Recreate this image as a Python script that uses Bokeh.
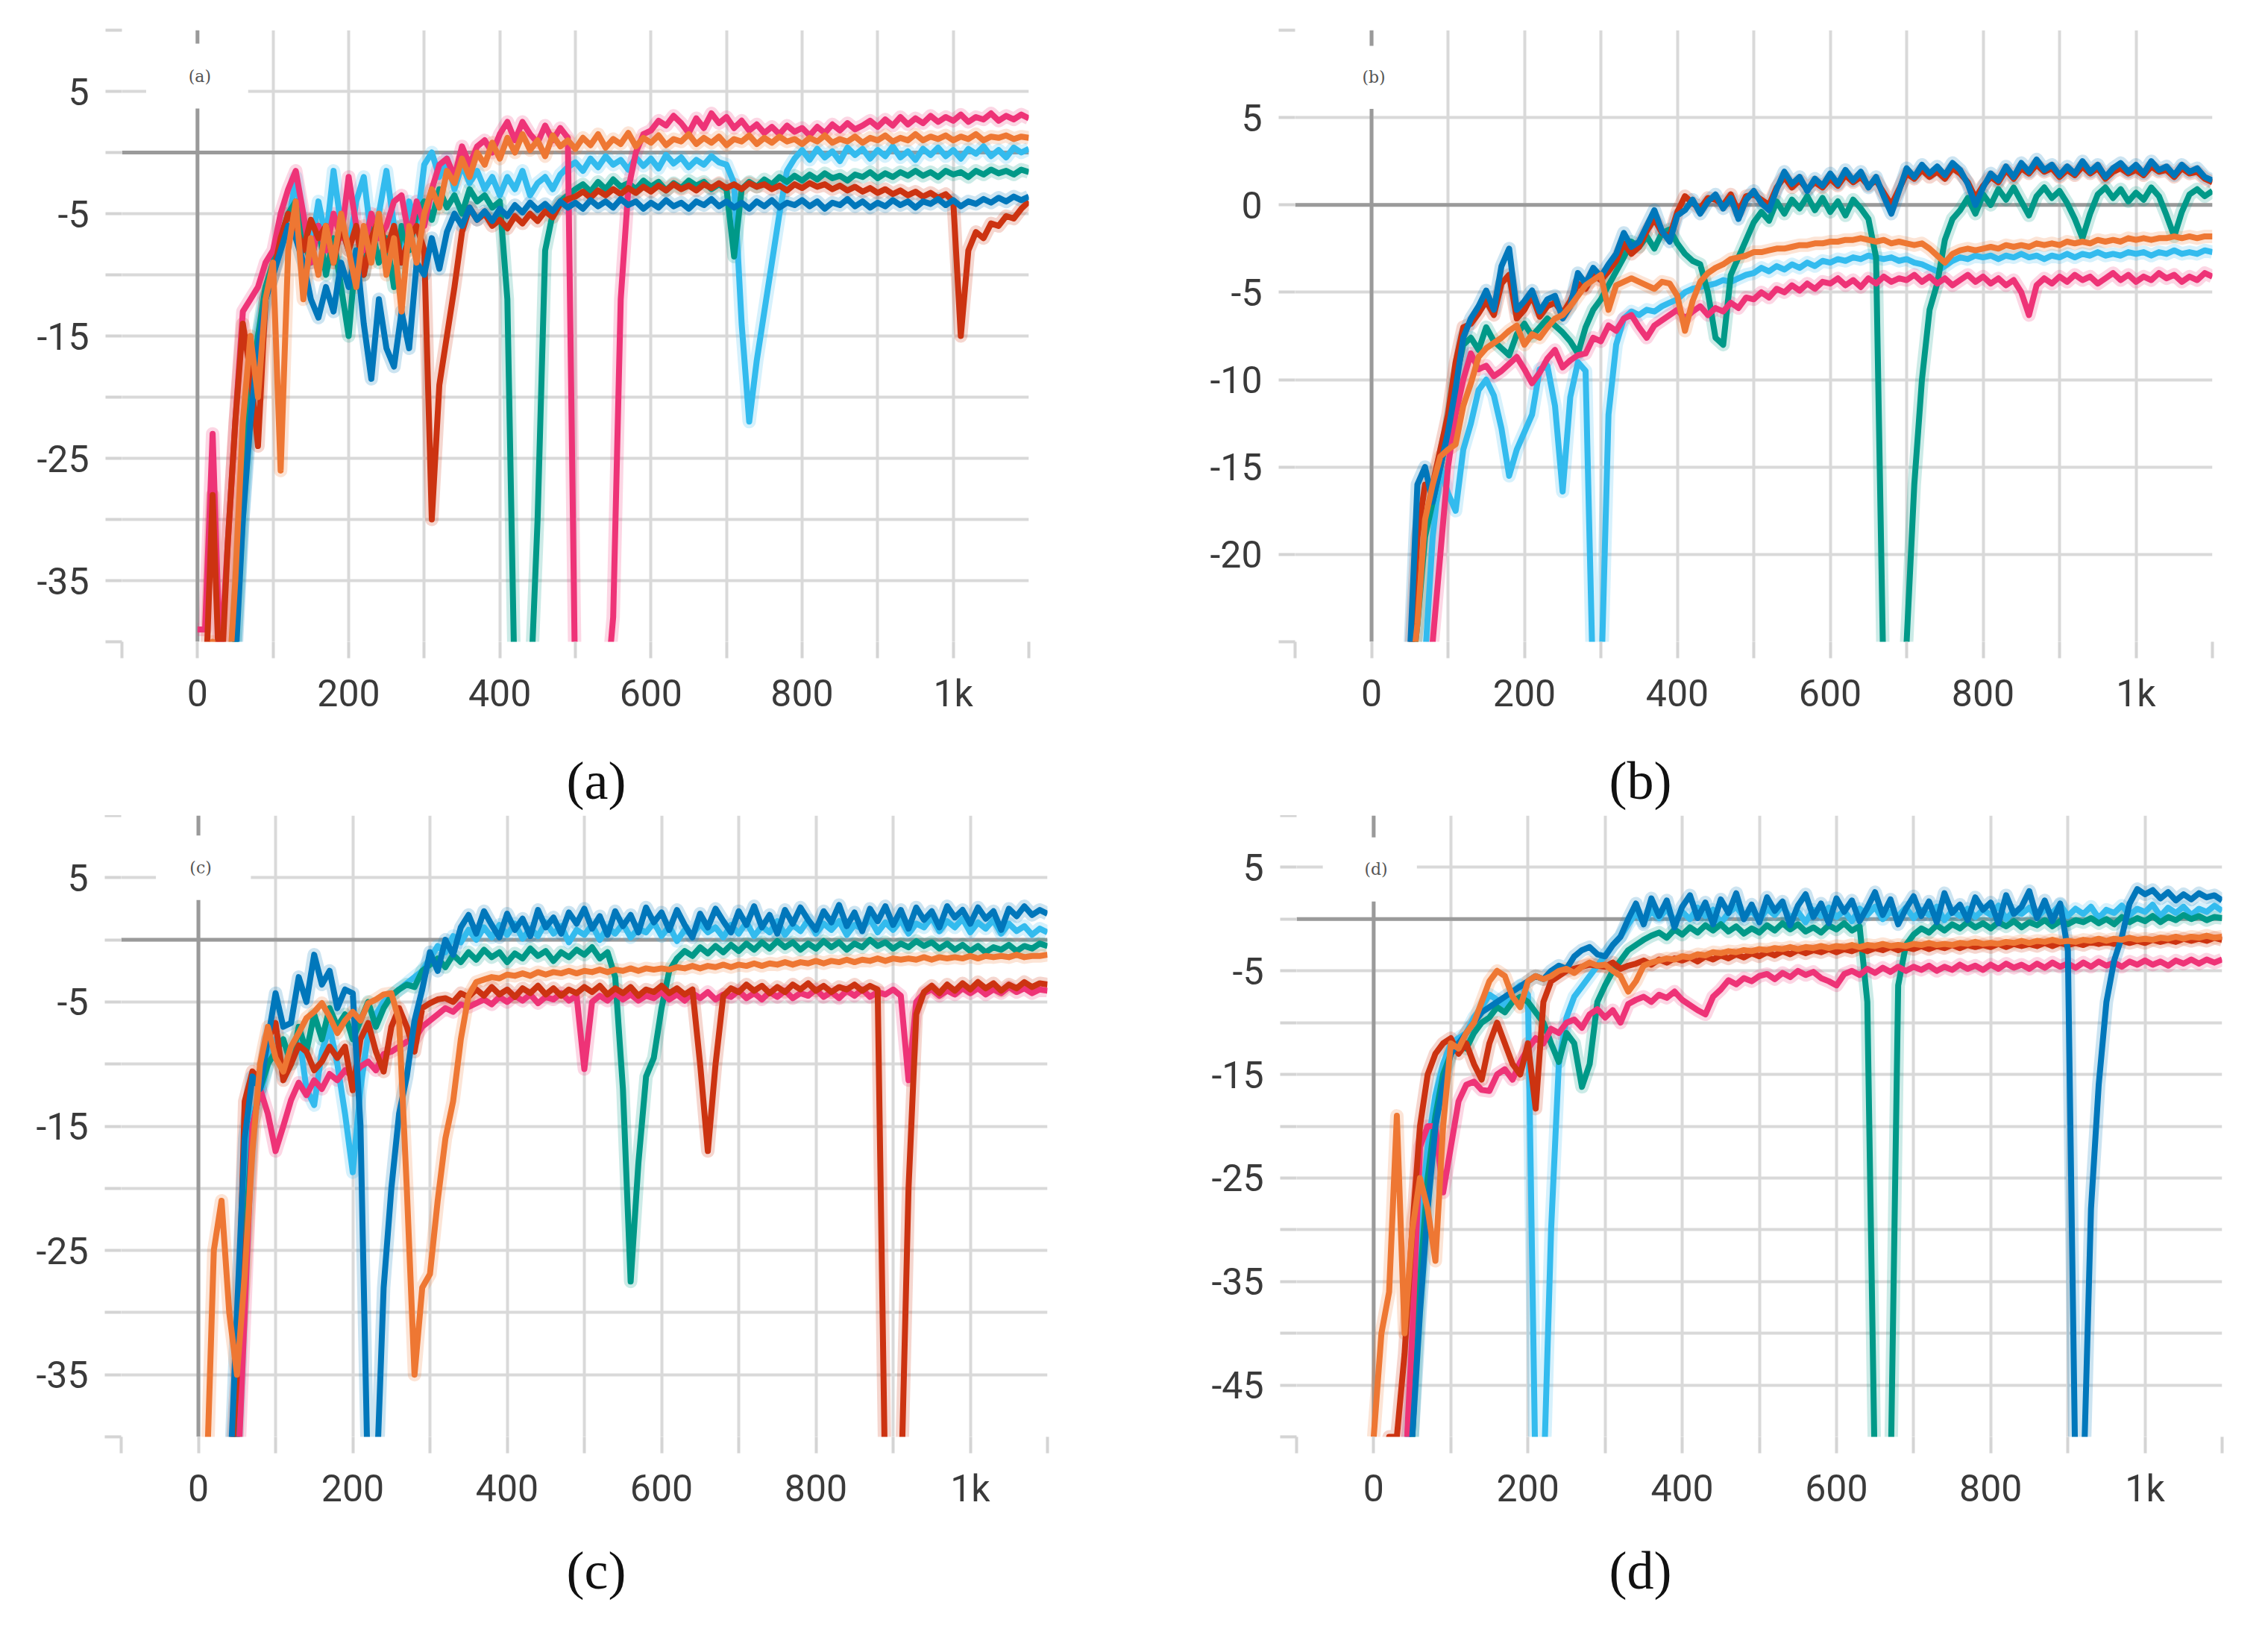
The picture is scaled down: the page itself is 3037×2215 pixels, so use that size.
from bokeh.embed import file_html
from bokeh.resources import INLINE
from bokeh.plotting import figure
from bokeh.layouts import column, row
from bokeh.models import Range1d, FixedTicker, Span, BoxAnnotation, Label

# one logged value every 10 training steps
STEPS = list(range(0, 1101, 10))

X_TICKS = list(range(-100, 1101, 100))
X_TICK_LABELS = ["", "0", "", "200", "", "400", "", "600", "", "800", "", "1k", ""]

COLORS = {"cyan": "#33BBEE", "teal": "#009988", "magenta": "#EE3377",
          "red": "#CC3311", "blue": "#0077BB", "orange": "#EE7733"}
ORDER = ["cyan", "teal", "magenta", "red", "blue", "orange"]

# ---------------- panel (a) ----------------
A_Y_TICKS = list(range(-40, 11, 5))
A_Y_LABELS = ["", "-35", "", "-25", "", "-15", "", "-5", "", "5", ""]

A_MAGENTA = [-39, -39, -23, -42, -32, -22, -13, -12, -11, -9,
             -8, -5, -3, -1.5, -5, -9, -6, -8, -5, -7,
             -2, -6, -8, -5, -7, -6, -4, -3.5, -7, -4,
             -6, -3, -1, -0.5, -2, 0.5, -1, 0.5, 1, 0,
             1.5, 2.5, 1, 2.5, 1.5, 0.8, 2.2, 1, 2, 1.2,
             -45, -45, -45, -45, -45, -38, -12, -3, 0, 1.5,
             1.8, 2.6, 2.2, 3.0, 2.4, 1.6, 2.8, 2.0, 3.2, 2.4,
             2.9, 2.0, 2.6, 1.8, 2.3, 1.6, 2.1, 1.5, 2.2, 1.7,
             2.0, 1.4, 2.1, 1.6, 2.3, 1.8, 2.4, 1.9, 2.2, 2.6,
             2.1, 2.7, 2.2, 2.9, 2.3, 2.8, 2.4, 3.0, 2.5, 2.9,
             2.6, 3.1, 2.5, 2.9, 2.7, 3.2, 2.6, 3.0, 2.7, 3.1, 2.8]
A_ORANGE = [-45, -45, -40, -42, -45, -35, -22, -15, -20, -12,
            -9, -26, -8, -4, -12, -7, -10, -6, -9, -5,
            -8, -11, -6, -9, -5, -10, -7, -13, -6, -9,
            -5, -3, -4.5, -1.5, -2.5, -0.5, -2, 0, -1, 0.8,
            -0.5, 1.2, 0, 1.5, 0.2, 1.0, -0.3, 1.4, 0.5, 1.0,
            0.3, 1.2, 0.6, 1.5, 0.4, 1.1, 0.7, 1.6, 0.5, 1.2,
            0.8, 1.4, 0.6, 1.1, 0.9, 1.5, 0.7, 1.2, 0.8, 1.3,
            0.6, 1.1, 0.9, 1.4, 0.7, 1.2, 0.8, 1.3, 0.9, 1.1,
            0.7, 1.2, 0.9, 1.4, 0.8, 1.1, 0.9, 1.3, 0.8, 1.2,
            1.0, 1.4, 0.9, 1.2, 1.0, 1.5, 1.0, 1.3, 1.1, 1.4,
            1.0, 1.3, 1.1, 1.5, 1.0, 1.3, 1.2, 1.4, 1.1, 1.3, 1.2]
A_CYAN = [-45, -45, -45, -45, -45, -40, -30, -20, -15, -12,
          -10, -8, -6, -2, -6, -8, -4, -7, -1.5, -6,
          -8, -4, -2, -7, -5, -1.5, -6, -9, -4, -6,
          -1, 0, -2, -0.5, -3, -1, -2.5, -1.5, -3, -2,
          -3.5, -2, -3, -1.5, -3.5, -2.5, -2, -3, -1.8, -1.2,
          -0.8, -1.5, -0.5, -1.2, -0.3, -1.0, -0.6, -1.4, -0.4, -1.1,
          -0.5, -1.3, -0.2, -0.9, -0.4, -1.2, -0.6, -1.0, -0.3, -0.8,
          -1.0, -2.5, -14, -22, -17, -13, -9, -5, -1.5, -0.5,
          0.2, -0.6, 0.3, -0.4, 0.1, -0.7, 0.4, -0.2, 0.3, -0.5,
          0.2, -0.3, 0.5, -0.4, 0.1, -0.6, 0.3, -0.2, 0.4, -0.3,
          0.2, -0.5, 0.3, -0.1, 0.5, -0.3, 0.2, -0.4, 0.4, 0.0, 0.3]
A_TEAL = [-45, -45, -45, -45, -45, -40, -28, -20, -15, -11,
          -9, -7, -5, -4, -7, -9, -6, -10, -7, -11,
          -15, -8, -10, -6, -9, -7, -11, -6, -8, -5,
          -4, -5.5, -3, -4.5, -3.5, -5, -3, -4, -3.5, -4.5,
          -4, -12, -45, -45, -45, -30, -8, -5, -4, -3.5,
          -3, -2.6, -3.2, -2.4, -3, -2.2, -2.8, -2.5, -3, -2.3,
          -2.8, -2.4, -3.1, -2.5, -2.9, -2.3, -2.7, -2.4, -3, -2.6,
          -3, -8.5, -3, -2.4, -2.8, -2.2, -2.6, -2.0, -2.4, -1.9,
          -2.3, -1.8, -2.2, -1.7, -2.1, -1.9, -2.3, -1.8, -2.0, -1.6,
          -2.1, -1.7, -2.0, -1.6, -1.9, -1.5, -1.9, -1.6, -2.0, -1.5,
          -1.8, -1.6, -2.0, -1.5, -1.8, -1.4, -1.7, -1.5, -1.8, -1.4, -1.6]
A_RED = [-45, -45, -28, -45, -32, -22, -14, -18, -24, -12,
         -10, -7, -5, -6, -8, -5.5, -7, -6, -9, -6,
         -8, -6, -10, -7, -5.5, -8, -6, -9, -7, -6,
         -8, -30, -19, -15, -11, -6.5, -4.5, -5.5, -5, -6,
         -5.5, -6.2, -5.2, -5.8, -5, -5.6, -4.8, -5.3, -4.2, -3.8,
         -3.6, -3.2, -3.7, -3.1, -3.5, -3.0, -3.4, -2.9, -3.3, -2.8,
         -3.2, -2.7, -3.1, -2.6, -3.0, -2.7, -3.1, -2.6, -2.9, -2.5,
         -2.9, -2.6, -3.0, -2.5, -2.8, -2.6, -3.0, -2.7, -3.1, -2.6,
         -2.9, -2.5, -2.8, -2.6, -3.0, -2.7, -3.1, -2.8, -3.2, -2.9,
         -3.3, -3.0, -3.4, -3.1, -3.5, -3.2, -3.6, -3.3, -3.7, -3.4,
         -4.0, -15, -8, -6.5, -7, -5.8, -6, -5.2, -5.4, -4.6, -4.0]
A_BLUE = [-45, -45, -45, -45, -45, -42, -30, -22, -16, -12,
          -10, -8, -6, -7, -9, -12, -13.5, -11, -13, -9,
          -11, -8, -14, -18.5, -12, -16, -17.5, -13, -16, -9,
          -10, -7, -9.5, -6.5, -5, -6, -4.5, -5.5, -4.8, -5.6,
          -4.6, -5.2, -4.3, -4.9, -4.1, -4.7, -4.2, -4.8, -4.0, -4.5,
          -4.1, -4.6, -3.9, -4.4, -4.0, -4.5, -3.8, -4.3, -4.0, -4.6,
          -4.1, -4.5, -3.9, -4.4, -4.1, -4.6, -4.0, -4.3, -3.8, -4.4,
          -4.0, -4.5, -4.1, -4.6, -4.0, -4.4, -3.9, -4.5, -4.1, -4.3,
          -3.9, -4.4, -4.0, -4.6, -4.1, -4.3, -3.8, -4.4, -4.0, -4.5,
          -4.1, -4.4, -3.9, -4.3, -4.0, -4.5, -4.0, -4.2, -3.8, -4.3,
          -3.9, -4.4, -4.0, -4.2, -3.8, -4.1, -3.7, -4.0, -3.6, -3.9, -3.6]

# ---------------- panel (b) ----------------
B_Y_TICKS = list(range(-25, 11, 5))
B_Y_LABELS = ["", "-20", "-15", "-10", "-5", "0", "5", ""]

B_BLUE = [-28, -28, -28, -28, -28, -26, -16, -15, -17, -15,
          -13, -10.5, -7.6, -6.5, -5.8, -4.9, -6, -3.5, -2.5, -6,
          -5.5, -4.9, -6.1, -5.4, -5.2, -6.5, -5.8, -3.9, -4.5, -3.6,
          -4.1, -3.4, -2.8, -1.6, -2.4, -2.1, -1.2, -0.3, -1.5, -2.1,
          -0.6, -0.3, 0.3, -0.5, 0.2, 0.6, -0.2, 0.4, -0.8, 0.3,
          0.8, 0.1, -0.3, 0.9, 1.9, 1.2, 1.6, 0.8, 1.5, 1.1,
          1.8, 1.2, 2.0, 1.4, 1.9, 1.0, 1.6, 0.5, -0.5, 0.8,
          2.1, 1.6, 2.3, 1.8, 2.2, 1.7, 2.4, 2.0, 1.2, 0.0,
          1.0, 1.8, 1.4, 2.2, 1.6, 2.4, 1.9, 2.6, 2.0, 2.3,
          1.7, 2.2, 1.8, 2.5, 1.9, 2.3, 1.6, 2.1, 2.4, 1.9,
          2.3, 1.8, 2.5, 2.0, 2.2, 1.7, 2.3, 1.9, 2.1, 1.6, 1.4]
B_RED = [-28, -28, -28, -28, -28, -27, -19, -16, -16, -14,
         -12, -9, -7, -6.8, -6.2, -5.5, -6.3, -4.5, -4, -6.5,
         -6, -5.2, -6.4, -5.8, -5.6, -6.2, -5.5, -4.5, -4.8, -4,
         -4.3, -3.8, -3.2, -2.2, -2.8, -2.4, -1.5, -0.8, -1.6, -1.8,
         -0.4, 0.5, 0.1, -0.2, 0.4, 0.3, 0.0, 0.6, -0.4, 0.5,
         0.6, 0.3, 0.0, 1.0, 1.6, 1.0, 1.4, 0.9, 1.3, 1.0,
         1.5, 1.1, 1.7, 1.3, 1.6, 1.1, 1.4, 0.7, 0.0, 0.9,
         1.8, 1.5, 2.0, 1.6, 1.9, 1.5, 2.1, 1.8, 1.3, 0.4,
         1.1, 1.6, 1.3, 2.0, 1.5, 2.1, 1.8, 2.3, 1.9, 2.1,
         1.6, 2.0, 1.7, 2.2, 1.8, 2.1, 1.5, 1.9, 2.1, 1.8,
         2.0, 1.7, 2.2, 1.9, 2.0, 1.6, 2.1, 1.8, 1.9, 1.5, 1.3]
B_TEAL = [-28, -28, -28, -28, -28, -28, -24, -19, -17, -15,
          -13, -10, -8, -7.6, -8.3, -7, -7.8, -8.2, -8.6, -7.4,
          -6.8, -7.5, -7, -6.5, -6.9, -7.3, -7.8, -8.5, -7, -6,
          -5.4, -4.6, -3.8, -3, -2.1, -2.4, -1.8, -2.5, -1.6, -1.4,
          -2.2, -2.8, -3.2, -3.4, -5, -7.6, -8, -4, -3, -2,
          -1.0, -0.4, -0.9, 0.2, -0.5, 0.3, -0.2, 0.5, -0.3, 0.4,
          -0.4, 0.2, -0.6, 0.3, -0.2, -0.8, -3, -28, -28, -28,
          -25, -16, -10, -6, -4.5, -2, -0.8, -0.3, 0.4, -0.5,
          0.6, 0.0, 0.9, 0.3, 1.0, 0.2, -0.6, 0.5, 1.0, 0.4,
          0.8, 0.1, -0.8, -1.9, -0.5, 0.6, 1.0, 0.4, 0.9, 0.2,
          0.7, 0.3, 1.0, 0.5, -0.6, -1.8, -0.4, 0.6, 0.9, 0.5, 0.8]
B_ORANGE = [-28, -28, -28, -28, -28, -28, -24, -18, -16, -14.4,
            -14, -13.7, -11.5, -10.2, -8.7, -8.2, -7.9, -7.6, -7.2, -6.9,
            -8, -7.4, -7.6, -7, -6.5, -6.3, -5.8, -5.2, -4.6, -4.3,
            -4.0, -6.0, -4.6, -4.4, -4.2, -4.4, -4.6, -4.8, -4.4, -4.5,
            -5.2, -7.2, -5.5, -4.4, -3.9, -3.6, -3.4, -3.1, -3.0, -2.9,
            -2.7, -2.7, -2.6, -2.5, -2.5, -2.4, -2.3, -2.3, -2.2, -2.2,
            -2.1, -2.1, -2.0, -2.0, -1.9, -2.0, -2.1, -2.0, -2.2, -2.1,
            -2.2, -2.3, -2.2, -2.5, -2.9, -3.3, -2.8, -2.6, -2.5, -2.6,
            -2.5, -2.4, -2.5, -2.3, -2.4, -2.3, -2.4, -2.2, -2.3, -2.2,
            -2.3, -2.1, -2.2, -2.1, -2.2, -2.0, -2.1, -2.0, -2.1, -1.9,
            -2.0, -1.9, -2.0, -1.9, -1.9, -1.8, -1.9, -1.8, -1.9, -1.8, -1.8]
B_CYAN = [-28, -28, -28, -28, -28, -28, -28, -26, -19, -15,
          -16.5, -17.5, -14, -12.5, -10.6, -10, -10.9, -12.8, -15.5, -14,
          -13, -12, -9.4, -9.2, -11.5, -16.4, -11, -9, -9.5, -28,
          -28, -12, -8, -6.5, -6.1, -6.3, -6.0, -6.1, -5.8, -5.6,
          -5.4, -5.0, -4.8, -4.7, -4.6, -4.5, -4.3, -4.4, -4.2, -4.0,
          -3.9, -3.6, -3.8, -3.5, -3.7, -3.4, -3.6, -3.3, -3.5, -3.2,
          -3.3, -3.1, -3.2, -3.0, -3.1, -2.9, -3.0, -3.1, -3.0, -3.2,
          -3.1, -3.3, -3.4, -3.6, -3.8, -3.5, -3.2, -3.0, -3.1, -2.9,
          -3.0, -2.9, -3.1, -2.9, -3.0, -2.8, -3.0, -2.9, -3.1, -2.9,
          -3.0, -2.8, -3.0, -2.8, -2.9, -2.7, -2.9, -2.8, -2.9, -2.7,
          -2.8, -2.7, -2.9, -2.7, -2.8, -2.6, -2.8, -2.7, -2.8, -2.6, -2.7]
B_MAGENTA = [-28, -28, -28, -28, -28, -28, -28, -28, -25, -20,
             -15, -12, -10, -8.5, -9.4, -9.2, -9.8, -9.5, -9.1, -8.7,
             -9.4, -10.2, -9.6, -8.8, -8.3, -9.3, -8.9, -8.6, -8.5, -7.6,
             -7.8, -6.9, -7.2, -6.5, -6.3, -7.0, -7.6, -6.9, -6.6, -6.3,
             -6.0, -6.5, -6.1, -5.8, -6.3, -5.9, -6.1, -5.6, -5.9, -5.3,
             -5.4, -5.0, -5.3, -4.8, -5.0, -4.6, -4.9, -4.5, -4.8, -4.4,
             -4.5, -4.2, -4.6, -4.3, -4.7, -4.2, -4.5, -4.1, -4.4, -4.2,
             -4.3, -4.0, -4.4, -4.1, -4.5, -4.2, -4.6, -4.3, -4.0, -4.4,
             -4.1, -4.5, -4.2, -4.6, -4.3, -5.0, -6.3, -4.6, -4.2, -4.5,
             -4.1, -4.4, -4.0, -4.3, -4.1, -4.5, -4.2, -3.9, -4.3, -4.0,
             -4.4, -4.1, -4.3, -3.9, -4.2, -4.0, -4.4, -4.1, -4.3, -3.9, -4.1]

# ---------------- panel (c) ----------------
C_Y_TICKS = list(range(-40, 11, 5))
C_Y_LABELS = ["", "-35", "", "-25", "", "-15", "", "-5", "", "5", ""]

C_BLUE = [-45, -45, -45, -45, -45, -30, -16, -11, -12, -8,
          -4.3, -7, -6.7, -3, -5, -1.2, -3.6, -2.5, -5.5, -4,
          -4.3, -15, -45, -45, -28, -20, -14, -11, -6.5, -4,
          -1.0, -2.5, 0.0, -1.2, 1.0, 2.0, 0.5, 2.3, 1.2, 0.2,
          2.1, 0.8, 1.7, 0.3, 2.4, 1.0, 1.8, 0.5, 2.2, 1.3,
          2.5, 0.9, 1.9, 0.4, 2.3, 1.1, 2.0, 0.6, 2.6, 1.4,
          2.2, 0.8, 2.4, 1.2, 0.2, 2.1, 1.0, 2.5, 1.5, 0.6,
          2.3, 1.2, 2.7, 1.0, 2.0, 0.5, 2.4, 1.3, 2.6, 1.6,
          0.8, 2.3, 1.4, 2.8, 1.1, 2.2, 0.7, 2.5, 1.5, 2.7,
          1.2, 2.4, 0.9, 2.6, 1.6, 2.3, 1.0, 2.7, 1.8, 2.4,
          1.3, 2.6, 1.7, 2.3, 0.8, 2.5, 1.9, 2.7, 2.0, 2.4, 2.1]
C_CYAN = [-45, -45, -45, -45, -45, -38, -22, -14, -12.5, -10,
          -8, -11, -9, -7.5, -12, -13.3, -9, -7, -10, -14,
          -18.7, -12, -7.5, -6, -5, -4.5, -4, -3.5, -3, -2.5,
          -1.5, -0.5, -1.0, 0.3, -0.2, 0.8, 0.0, 1.0, 0.2, 1.2,
          0.4, 1.3, 0.1, 0.9, 0.3, 1.4, 0.5, 1.1, -0.2, 0.8,
          0.4, 1.2, 0.0, 1.0, 0.5, 1.3, 0.2, 0.9, 0.6, 1.4,
          0.3, 1.1, -0.1, 0.8, 0.4, 1.3, 0.6, 1.0, 0.2, 1.2,
          0.5, 1.4, 0.3, 1.1, 0.6, 1.5, 0.4, 1.2, 0.7, 1.6,
          0.5, 1.3, 0.8, 1.5, 0.4, 1.2, 0.9, 1.7, 0.6, 1.4,
          0.8, 1.6, 0.5, 1.3, 1.0, 1.8, 0.7, 1.5, 1.0, 1.7,
          0.6, 1.4, 0.9, 1.6, 0.5, 1.3, 0.7, 1.1, 0.4, 0.9, 0.6]
C_TEAL = [-45, -45, -45, -45, -45, -40, -25, -15, -12, -10,
          -9, -8, -10, -7, -9, -6, -8, -5.5, -7, -6,
          -8, -6.5, -5, -7, -5.5, -4.5, -4, -3.6, -3.8, -2.5,
          -2.0, -1.5, -2.2, -1.2, -1.8, -1.0, -1.6, -0.8, -1.4, -1.0,
          -1.8, -1.1, -1.5, -0.7, -1.3, -0.9, -1.7, -1.0, -1.4, -0.8,
          -1.2, -0.6, -1.5, -1.0, -3.0, -12, -27.5, -18, -11, -9.5,
          -5.5, -2.5, -1.5, -0.9, -1.3, -0.6, -1.1, -0.5, -1.0, -0.4,
          -0.9, -0.3, -0.8, -0.2, -0.7, -0.1, -0.6, -0.2, -0.8, -0.3,
          -0.7, -0.1, -0.6, -0.2, -0.8, -0.3, -0.6, 0.0, -0.5, -0.2,
          -0.7, -0.3, -0.6, -0.1, -0.5, -0.2, -0.7, -0.3, -0.8, -0.4,
          -0.9, -0.5, -1.0, -0.6, -0.8, -0.4, -0.9, -0.5, -0.7, -0.3, -0.5]
C_ORANGE = [-45, -45, -25, -21, -30, -35, -27, -17, -10, -7,
            -9.5, -10.6, -8.6, -7.5, -6.3, -5.8, -5.1, -6.2, -7.5, -6.5,
            -5.8, -6.5, -5.1, -4.8, -4.4, -4.3, -6.5, -20, -35, -28,
            -26.9, -21, -16, -13, -8, -4.5, -3.4, -3.2, -3.0, -3.1,
            -2.8, -2.9, -2.7, -2.9, -2.6, -2.8, -2.6, -2.7, -2.5, -2.7,
            -2.5, -2.6, -2.4, -2.6, -2.4, -2.5, -2.3, -2.5, -2.3, -2.4,
            -2.3, -2.4, -2.2, -2.3, -2.1, -2.3, -2.1, -2.2, -2.0, -2.2,
            -2.0, -2.1, -1.9, -2.1, -1.9, -2.0, -1.8, -2.0, -1.8, -1.9,
            -1.7, -1.9, -1.7, -1.8, -1.6, -1.8, -1.6, -1.7, -1.5, -1.7,
            -1.5, -1.6, -1.5, -1.6, -1.4, -1.6, -1.4, -1.5, -1.4, -1.5,
            -1.3, -1.5, -1.3, -1.4, -1.3, -1.4, -1.2, -1.4, -1.3, -1.3, -1.2]
C_RED = [-45, -45, -45, -45, -45, -35, -13, -10.6, -11.3, -8,
         -6.7, -11.3, -10, -8.5, -9, -10.5, -9.8, -8.6, -9.5, -8.6,
         -12.1, -8, -6.7, -9, -10.6, -7, -5.5, -7, -9, -5.5,
         -5.1, -4.8, -4.7, -5.0, -4.3, -4.6, -4.0, -4.5, -3.8, -4.4,
         -4.0, -4.6, -3.9, -4.3, -3.7, -4.4, -3.9, -4.5, -4.0, -4.3,
         -3.8, -4.2, -3.7, -4.4, -3.9, -4.3, -3.8, -4.5, -4.0, -4.2,
         -3.7, -4.3, -3.9, -4.4, -4.0, -10, -17, -10, -4.5, -3.9,
         -4.2, -3.6, -4.1, -3.7, -4.3, -3.8, -4.2, -3.6, -4.0, -3.5,
         -4.1, -3.7, -4.2, -3.8, -4.0, -3.6, -4.1, -3.7, -4.0, -45,
         -45, -45, -20, -6, -4.2, -3.7, -4.3, -3.6, -4.1, -3.5,
         -4.0, -3.4, -3.9, -3.5, -4.1, -3.6, -3.9, -3.4, -3.8, -3.5, -3.6]
C_MAGENTA = [-45, -45, -45, -45, -45, -45, -30, -15, -12, -14,
             -17, -15, -12.9, -11.5, -12.5, -11.3, -12, -10.8, -11.3, -10.5,
             -11, -10.2, -9.8, -10.5, -9.2, -9, -8.6, -8.2, -8, -7,
             -6.5, -6, -5.5, -5.8, -5.2, -5.4, -5.1, -4.8, -5.2, -4.6,
             -5.0, -4.5, -4.9, -4.4, -5.1, -4.6, -4.8, -4.3, -4.9, -4.5,
             -10.4, -5.0, -4.5, -4.9, -4.3, -4.8, -4.4, -4.9, -4.5, -4.7,
             -4.2, -4.8, -4.4, -4.9, -4.3, -4.7, -4.2, -4.8, -4.4, -4.6,
             -4.1, -4.7, -4.3, -4.8, -4.2, -4.6, -4.1, -4.7, -4.3, -4.5,
             -4.0, -4.6, -4.2, -4.7, -4.1, -4.5, -4.0, -4.6, -4.2, -4.4,
             -4.0, -4.5, -11.3, -5, -4.3, -4.0, -4.5, -4.1, -4.4, -3.9,
             -4.3, -3.9, -4.4, -4.0, -4.3, -3.8, -4.2, -3.9, -4.3, -4.0, -4.1]

# ---------------- panel (d) ----------------
D_Y_TICKS = list(range(-50, 11, 5))
D_Y_LABELS = ["", "-45", "", "-35", "", "-25", "", "-15", "", "-5", "", "5", ""]

D_ORANGE = [-50, -40, -36, -19, -40, -30, -25, -28, -33, -20,
            -12, -12.5, -11, -10, -8, -6, -5, -5.5, -7.5, -8.5,
            -6, -5.5, -5.8, -5.5, -5, -4.8, -5.2, -4.6, -4.2, -4.5,
            -4.4, -5, -5.5, -7, -6, -4.5, -4.2, -4.0, -3.8, -3.9,
            -3.6, -3.7, -3.4, -3.5, -3.2, -3.3, -3.1, -3.2, -3.0, -3.1,
            -2.9, -3.0, -2.8, -2.9, -2.7, -2.9, -2.7, -2.8, -2.6, -2.8,
            -2.6, -2.7, -2.5, -2.7, -2.5, -2.6, -2.4, -2.6, -2.5, -2.6,
            -2.4, -2.5, -2.3, -2.5, -2.4, -2.5, -2.3, -2.4, -2.2, -2.4,
            -2.3, -2.4, -2.2, -2.3, -2.1, -2.3, -2.1, -2.2, -2.0, -2.2,
            -2.1, -2.2, -2.0, -2.1, -1.9, -2.1, -1.9, -2.0, -1.8, -2.0,
            -1.9, -2.0, -1.8, -1.9, -1.7, -1.9, -1.7, -1.8, -1.6, -1.8, -1.7]
D_RED = [-55, -55, -50, -50, -42, -30, -20, -15, -13, -12,
         -11.5, -13, -12, -14, -15.5, -12, -10, -12, -14, -15,
         -12, -18.3, -8, -6, -5.5, -5, -4.8, -4.6, -4.4, -4.5,
         -4.6, -4.2, -4.8, -4.5, -4.3, -4.0, -4.4, -3.9, -4.2, -3.8,
         -4.0, -3.7, -4.1, -3.6, -3.9, -3.5, -3.8, -3.4, -3.7, -3.3,
         -3.6, -3.2, -3.5, -3.1, -3.4, -3.0, -3.3, -3.0, -3.2, -2.9,
         -3.2, -2.9, -3.1, -2.8, -3.1, -2.8, -3.0, -2.7, -3.0, -2.7,
         -2.9, -2.6, -2.9, -2.6, -2.8, -2.5, -2.8, -2.5, -2.7, -2.5,
         -2.7, -2.4, -2.7, -2.4, -2.6, -2.4, -2.6, -2.3, -2.6, -2.3,
         -2.5, -2.3, -2.5, -2.2, -2.4, -2.2, -2.4, -2.1, -2.3, -2.1,
         -2.3, -2.0, -2.2, -2.0, -2.2, -1.9, -2.1, -1.9, -2.1, -1.8, -2.0]
D_MAGENTA = [-55, -55, -55, -55, -55, -40, -22, -20, -20, -26.4,
             -22, -17.6, -16, -15.7, -16.5, -16.6, -15, -14.5, -15.5, -13.8,
             -12.5, -11.5, -12, -10.6, -11, -10, -9.7, -10.5, -9.2, -8.7,
             -9.5, -8.8, -10, -8.2, -7.8, -7.5, -8.0, -7.3, -7.6, -7.0,
             -7.8, -8.3, -8.8, -9.2, -7.5, -6.8, -5.9, -6.3, -5.7, -6.0,
             -5.5, -5.3, -5.8, -5.2, -5.6, -5.0, -5.4, -5.1, -5.7, -6.0,
             -6.4, -5.3, -5.0, -5.4, -4.8, -5.2, -4.7, -5.1, -4.6, -5.0,
             -4.6, -4.9, -4.5, -5.0, -4.6, -4.9, -4.4, -4.8, -4.5, -4.9,
             -4.4, -4.8, -4.3, -4.7, -4.4, -4.8, -4.3, -4.7, -4.2, -4.6,
             -4.3, -4.7, -4.2, -4.6, -4.1, -4.5, -4.2, -4.6, -4.1, -4.4,
             -4.0, -4.4, -4.1, -4.5, -4.0, -4.3, -3.9, -4.3, -3.9, -4.2, -3.9]
D_CYAN = [-55, -55, -55, -55, -55, -45, -30, -22, -17, -14,
          -12, -11.5, -11, -9.5, -8.5, -7.3, -7.8, -8.3, -7, -6.4,
          -7.3, -55, -55, -30, -14, -9.5, -7.5, -6.5, -5.5, -4.5,
          -3.5, -2.5, -1.7, -0.5, 0.6, -0.3, 0.8, 0.1, 1.0, -0.2,
          0.7, 0.0, 1.1, 0.3, 0.9, -0.4, 0.6, 1.2, 0.2, 0.8,
          -0.1, 1.0, 0.4, 1.3, 0.1, 0.7, -0.3, 0.9, 0.3, 1.1,
          0.2, 0.8, -0.2, 1.0, 0.4, 1.2, 0.0, 0.7, 0.3, 1.1,
          0.1, 0.9, 0.4, 1.2, -0.1, 0.8, 0.3, 1.0, 0.2, 0.9,
          0.4, 1.3, 0.0, 0.8, 0.5, 1.1, 0.2, 0.9, 0.6, 1.4,
          0.3, 1.0, 0.5, 1.2, 0.1, 0.9, 0.6, 1.3, 0.4, 1.0,
          0.7, 1.4, 0.3, 1.1, 0.6, 1.2, 0.4, 1.0, 0.7, 1.3, 0.8]
D_TEAL = [-55, -55, -55, -55, -55, -50, -35, -25, -19, -15,
          -13, -12, -12.5, -11, -10, -9.5, -8.5, -9, -8, -7.5,
          -8, -9, -10, -12, -13.8, -11, -12, -16.2, -14, -8,
          -6.4, -5, -4, -3, -2.5, -2, -1.6, -1.3, -1.8, -1.0,
          -1.5, -0.8, -1.3, -0.6, -1.1, -0.5, -1.2, -0.7, -1.4, -0.9,
          -1.3, -0.6, -1.1, -0.4, -1.0, -0.5, -1.2, -0.8, -1.3, -0.6,
          -1.0, -0.4, -1.1, -0.7, -8, -55, -55, -55, -6.4, -2.5,
          -1.5, -0.9, -1.3, -0.6, -1.1, -0.5, -0.9, -0.3, -0.8, -0.4,
          -0.9, -0.3, -0.7, -0.2, -0.8, -0.3, -0.6, -0.1, -0.7, -0.2,
          -0.5, -0.1, -0.3, 0.1, -0.4, 0.0, -0.5, 0.2, -0.3, 0.1,
          -0.2, 0.3, -0.3, 0.2, -0.1, 0.4, 0.0, 0.3, -0.1, 0.2, 0.1]
D_BLUE = [-55, -55, -55, -55, -55, -50, -38, -28, -20, -16,
          -13, -12, -11, -10, -9, -8.5, -8, -7.5, -7, -6.5,
          -6, -5.5, -5.8, -5, -4.5, -4.8, -3.6, -3, -2.7, -3.4,
          -3.6, -2.5, -1.7, 0.0, 1.5, -0.5, 2.0, 0.3, 1.8, -0.8,
          1.2, 2.3, 0.1, 1.6, -0.5, 1.9, 0.6, 2.5, 0.0, 1.4,
          -0.3, 2.1, 0.8, 1.7, -0.6, 1.3, 2.4, 0.2, 1.5, -0.4,
          2.0, 0.7, 1.8, -0.2, 1.1, 2.6, 0.4, 1.9, -0.5, 1.0,
          2.2, 0.3, 1.7, -0.3, 2.5, 0.6, 1.4, -0.1, 2.1, 0.9,
          1.6, -0.4, 2.3, 0.5, 1.2, 2.7, 0.1, 1.8, -0.2, 1.5,
          -3, -55, -55, -28, -16, -8, -4, -1.7, 1.5, 2.9,
          2.4, 2.8, 2.0, 2.6, 1.8, 2.4, 1.9, 2.5, 2.1, 2.3, 1.8]

CAPTIONS_TOP = ["(a)", "(b)"]
CAPTIONS_BOTTOM = ["(c)", "(d)"]

PANELS = [
    dict(tag="(a)", y_lo=-40, y_ticks=A_Y_TICKS, y_labels=A_Y_LABELS,
         series=dict(cyan=A_CYAN, teal=A_TEAL, magenta=A_MAGENTA, red=A_RED, blue=A_BLUE, orange=A_ORANGE),
         width=1572, height=985, borders=(163, 193, 40, 125),
         tag_y=6.2, gap=(-68, 67, 3.6, 8.9)),
    dict(tag="(b)", y_lo=-25, y_ticks=B_Y_TICKS, y_labels=B_Y_LABELS,
         series=dict(cyan=B_CYAN, teal=B_TEAL, magenta=B_MAGENTA, red=B_RED, blue=B_BLUE, orange=B_ORANGE),
         width=1448, height=985, borders=(164, 54, 40, 125),
         tag_y=7.3, gap=(-68, 67, 5.5, 9.1)),
    dict(tag="(c)", y_lo=-40, y_ticks=C_Y_TICKS, y_labels=C_Y_LABELS,
         series=dict(cyan=C_CYAN, teal=C_TEAL, magenta=C_MAGENTA, red=C_RED, blue=C_BLUE, orange=C_ORANGE),
         width=1572, height=958, borders=(162, 168, 0, 125),
         tag_y=5.8, gap=(-55, 68, 3.2, 8.4)),
    dict(tag="(d)", y_lo=-50, y_ticks=D_Y_TICKS, y_labels=D_Y_LABELS,
         series=dict(cyan=D_CYAN, teal=D_TEAL, magenta=D_MAGENTA, red=D_RED, blue=D_BLUE, orange=D_ORANGE),
         width=1448, height=958, borders=(166, 41, 0, 125),
         tag_y=4.8, gap=(-66, 56, 1.7, 7.9)),
]


def make_panel(cfg):
    left, right, top, bottom = cfg["borders"]
    p = figure(width=cfg["width"], height=cfg["height"], title=None,
               x_range=Range1d(-100, 1100), y_range=Range1d(cfg["y_lo"], 10),
               output_backend="svg", toolbar_location=None,
               min_border_left=left, min_border_right=right,
               min_border_top=top, min_border_bottom=bottom)
    p.outline_line_color = None
    p.background_fill_color = "white"
    p.border_fill_color = "white"

    p.xaxis.ticker = FixedTicker(ticks=X_TICKS)
    p.xaxis.major_label_overrides = dict(zip(X_TICKS, X_TICK_LABELS))
    p.yaxis.ticker = FixedTicker(ticks=cfg["y_ticks"])
    p.yaxis.major_label_overrides = dict(zip(cfg["y_ticks"], cfg["y_labels"]))
    for ax in (p.xaxis[0], p.yaxis[0]):
        ax.axis_line_color = None
        ax.major_tick_line_color = "#d4d4d4"
        ax.major_tick_line_width = 4
        ax.major_tick_in = 0
        ax.major_tick_out = 22
        ax.minor_tick_line_color = None
        ax.major_label_text_font = "Roboto"
        ax.major_label_text_font_size = "50px"
        ax.major_label_text_color = "#3a3a3a"
    p.xaxis.major_label_standoff = 18
    p.yaxis.major_label_standoff = 22

    for g in (p.xgrid[0], p.ygrid[0]):
        g.grid_line_color = "#d9d9d9"
        g.grid_line_width = 4

    # tensorboard style axis cross through the origin
    p.add_layout(Span(location=0, dimension="width", line_color="#9a9a9a",
                      line_width=5, level="underlay"))
    p.add_layout(Span(location=0, dimension="height", line_color="#9a9a9a",
                      line_width=5, level="underlay"))

    # raw (unsmoothed) runs are shown as a faint halo
    for name in ORDER:
        vals = cfg["series"][name]
        p.line(STEPS[:len(vals)], vals, line_color=COLORS[name], line_alpha=0.2,
               line_width=18, line_join="round")
    for name in ORDER:
        vals = cfg["series"][name]
        p.line(STEPS[:len(vals)], vals, line_color=COLORS[name], line_width=8,
               line_join="round")

    gl, gr, gb, gt = cfg["gap"]
    p.add_layout(BoxAnnotation(left=gl, right=gr, bottom=gb, top=gt,
                               fill_color="white", fill_alpha=1.0, line_color=None))
    p.add_layout(Label(x=3, y=cfg["tag_y"], text=cfg["tag"], text_font="DejaVu Serif",
                       text_font_size="22px", text_color="#555555",
                       text_align="center", text_baseline="middle"))
    return p


def caption_strip(texts, height, y_mid):
    # a blank strip holding the sub-figure captions, in pixel-like units
    s = figure(width=3020, height=height, title=None, x_range=Range1d(0, 3020),
               y_range=Range1d(0, height), x_axis_type=None, y_axis_type=None,
               output_backend="svg", toolbar_location=None, min_border=0)
    s.outline_line_color = None
    s.background_fill_color = "white"
    s.border_fill_color = "white"
    for x, t in zip([799, 2199], texts):
        s.add_layout(Label(x=x, y=y_mid, text=t, text_font="Liberation Serif",
                           text_font_size="72px", text_color="#111111",
                           text_align="center", text_baseline="middle"))
    return s


figs = [make_panel(c) for c in PANELS]
layout = column(row(figs[0], figs[1]),
                caption_strip(CAPTIONS_TOP, 108, 47),
                row(figs[2], figs[3]),
                caption_strip(CAPTIONS_BOTTOM, 128, 74))

open("out.html", "w").write(file_html(layout, INLINE))
